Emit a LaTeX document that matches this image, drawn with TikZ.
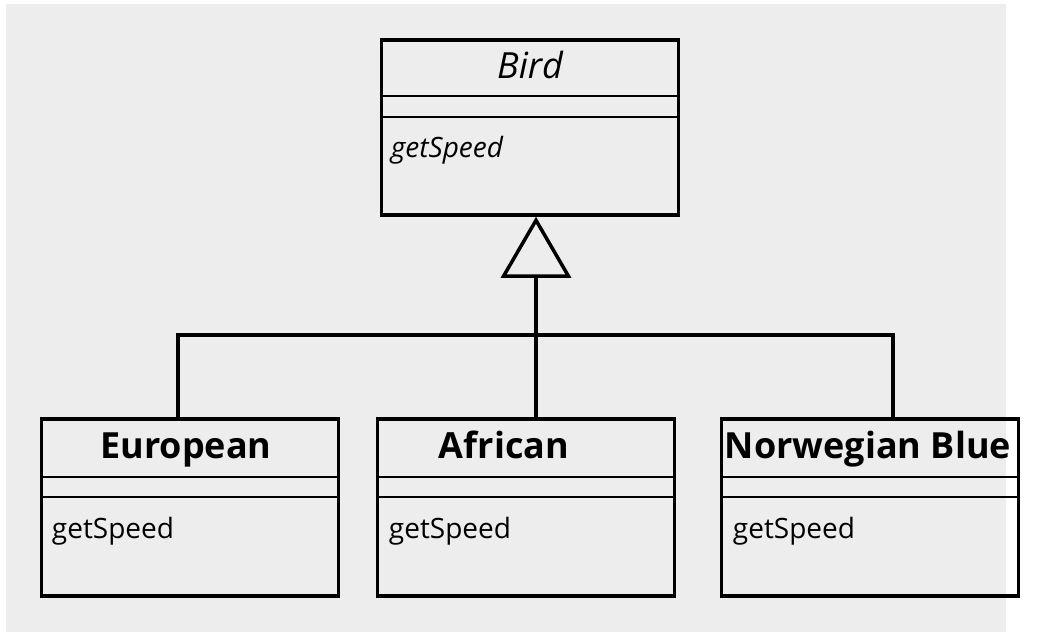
\documentclass[tikz,border=0pt]{standalone}
\usepackage{fontspec}
\setmainfont{Open Sans}
\usetikzlibrary{arrows.meta}

\definecolor{bggray}{RGB}{236,237,236}

\tikzset{
  classbox/.style={draw, line width=3.5pt, minimum width=297pt, minimum height=177pt, inner sep=0pt},
  classname/.style={font=\fontsize{36}{42}\selectfont\bfseries, anchor=base, inner sep=0pt},
  opname/.style={font=\fontsize{28}{32}\selectfont, anchor=base west, inner sep=0pt},
  divider/.style={line width=2pt},
  inherit/.style={line width=3.5pt, -{Triangle[open, length=61pt, width=70pt]}}
}

\begin{document}
\begin{tikzpicture}[x=1pt, y=-1pt]
        \useasboundingbox (0,0) rectangle (1048,636);
        \fill[bggray] (6,4) rectangle (1006,632);

        % classes
        \node[classbox, minimum height=175pt] (bird) at (530,127.5) {};
        \node[classbox] (european) at (190,507.5) {};
        \node[classbox] (african) at (526,507.5) {};
        \node[classbox] (norwegian) at (870,507.5) {};

        \draw[divider] ([yshift=-58pt]bird.north west) -- ([yshift=-58pt]bird.north east);
        \draw[divider] ([yshift=-79pt]bird.north west) -- ([yshift=-79pt]bird.north east);
        \draw[divider] ([yshift=-60pt]european.north west) -- ([yshift=-60pt]european.north east);
        \draw[divider] ([yshift=-80pt]european.north west) -- ([yshift=-80pt]european.north east);
        \draw[divider] ([yshift=-60pt]african.north west) -- ([yshift=-60pt]african.north east);
        \draw[divider] ([yshift=-80pt]african.north west) -- ([yshift=-80pt]african.north east);
        \draw[divider] ([yshift=-60pt]norwegian.north west) -- ([yshift=-60pt]norwegian.north east);
        \draw[divider] ([yshift=-80pt]norwegian.north west) -- ([yshift=-80pt]norwegian.north east);

        \node[classname, font=\fontsize{36}{42}\selectfont\itshape] (birdname) at ([yshift=-40pt]bird.north) {Bird};
        \node[classname] (europeanname) at ([xshift=-4pt, yshift=-41pt]european.north) {European};
        \node[classname] (africanname) at ([xshift=-22pt, yshift=-41pt]african.north) {African};
        \node[classname] (norwegianname) at ([xshift=-2pt, yshift=-41pt]norwegian.north) {Norwegian Blue};

        \node[opname, font=\fontsize{28}{32}\selectfont\itshape] (birdop) at ([xshift=11pt, yshift=-119pt]bird.north west) {getSpeed};
        \node[opname] (europeanop) at ([xshift=12pt, yshift=-121pt]european.north west) {getSpeed};
        \node[opname] (africanop) at ([xshift=13pt, yshift=-121pt]african.north west) {getSpeed};
        \node[opname] (norwegianop) at ([xshift=13pt, yshift=-121pt]norwegian.north west) {getSpeed};

        % generalization
        \coordinate (hub) at (536,335);
        \draw[inherit] ([xshift=10pt]african.north) -- ([xshift=6pt]bird.south);
        \draw[line width=3.5pt] ([xshift=-12pt]european.north) |- (hub) -| ([xshift=23pt]norwegian.north);
\end{tikzpicture}
\end{document}
